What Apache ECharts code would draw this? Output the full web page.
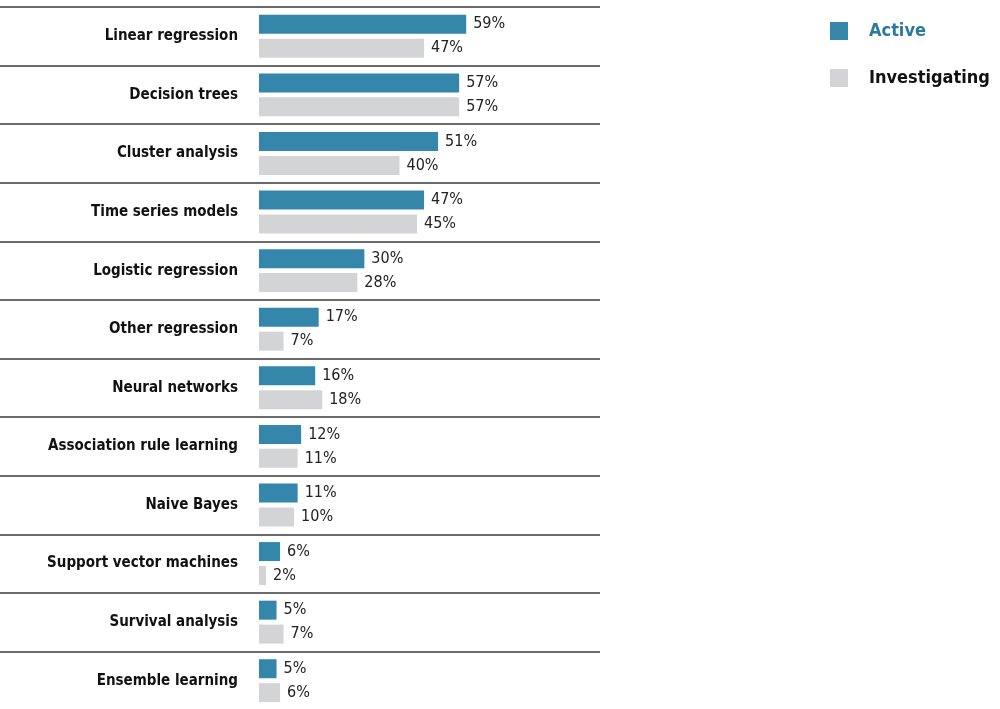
<!DOCTYPE html>
<html><head><meta charset="utf-8">
<script src="https://cdn.jsdelivr.net/npm/echarts@6/dist/echarts.min.js"></script>
<style>html,body{margin:0;padding:0;background:#fff}#c{width:1000px;height:709px}</style>
</head><body><div id="c"></div>
<script>
const categories = ['Linear regression','Decision trees','Cluster analysis','Time series models','Logistic regression','Other regression','Neural networks','Association rule learning','Naive Bayes','Support vector machines','Survival analysis','Ensemble learning'];
const active = [59,57,51,47,30,17,16,12,11,6,5,5];
const investigating = [47,57,40,45,28,7,18,11,10,2,7,6];
const FONT = '"DejaVu Sans Condensed", "Liberation Sans Narrow", sans-serif';
const chart = echarts.init(document.getElementById('c'));
const lbl = {show:true, position:'right', distance:7, formatter:'{c}%', color:'#222', fontFamily:FONT, fontSize:16};
chart.setOption({
  animation:false,
  legend:{
    orient:'vertical', left:830, top:22, padding:0, itemWidth:18, itemHeight:18, itemGap:29,
    icon:'rect',
    textStyle:{fontFamily:FONT, fontWeight:'bold', fontSize:18, padding:[0,0,0,16]},
    data:[{name:'Active', textStyle:{color:'#2a7aa0'}},{name:'Investigating', textStyle:{color:'#111'}}]
  },
  grid:[
    {left:259, top:7, width:341, height:703, outerBoundsMode:'none', containLabel:false},
    {left:0, top:7, width:600, height:703, outerBoundsMode:'none', containLabel:false}
  ],
  xAxis:[
    {type:'value', gridIndex:0, min:0, max:97.1, show:false},
    {type:'value', gridIndex:1, min:0, max:100, show:false}
  ],
  yAxis:[
    {type:'category', gridIndex:0, data:categories, inverse:true,
      axisLine:{show:false}, axisTick:{show:false}, splitLine:{show:false},
      axisLabel:{color:'#111', fontFamily:FONT, fontWeight:'bold', fontSize:15, margin:21}
    },
    {type:'category', gridIndex:1, data:categories, inverse:true,
      axisLine:{show:false}, axisTick:{show:false}, axisLabel:{show:false},
      splitLine:{show:true, lineStyle:{color:'#3a3a3a', width:1.5}}
    }
  ],
  series:[
    {name:'Active', type:'bar', data:active, barWidth:19, barGap:'26%', itemStyle:{color:'#3487ab'}, label:lbl},
    {name:'Investigating', type:'bar', data:investigating, barWidth:19, itemStyle:{color:'#d3d4d6'}, label:lbl}
  ]
});
</script></body></html>
